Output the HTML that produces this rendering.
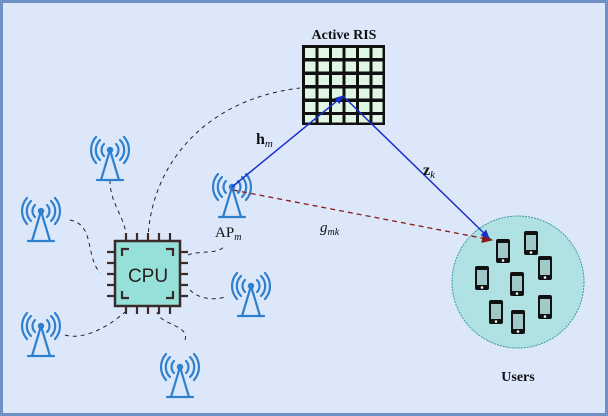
<!DOCTYPE html>
<html><head><style>body{margin:0;background:#fff}svg{display:block}</style></head><body>
<svg width="608" height="416" viewBox="0 0 608 416" xmlns="http://www.w3.org/2000/svg" font-family="Liberation Serif, serif">
<defs>
<g id="ant" fill="none" stroke="#2f7fcf" stroke-width="2.2" stroke-linecap="round">
<circle cx="0" cy="0" r="3.2" fill="#2f7fcf" stroke="none"/>
<path d="M0 0 L-9 30 M0 0 L9 30 M-13 30 H13" />
<path d="M-6 -6 A8.5 8.5 0 0 0 -6 6 M6 -6 A8.5 8.5 0 0 1 6 6"/>
<path d="M-10 -10 A14 14 0 0 0 -10 10 M10 -10 A14 14 0 0 1 10 10"/>
<path d="M-14 -13 A19.5 19.5 0 0 0 -14 13 M14 -13 A19.5 19.5 0 0 1 14 13"/>
</g>
<g id="ph"><rect x="-7" y="-12" width="14" height="24" rx="2" fill="#111"/><rect x="-5" y="-8" width="10" height="15" fill="#9fc8c8"/><circle cx="0" cy="9.5" r="1.3" fill="#fff"/></g>
<marker id="ab" markerWidth="10" markerHeight="10" refX="8" refY="5" orient="auto" markerUnits="userSpaceOnUse"><path d="M0 1 L9 5 L0 9z" fill="#1a2fc8"/></marker>
<marker id="ar" markerWidth="12" markerHeight="12" refX="10" refY="6" orient="auto" markerUnits="userSpaceOnUse"><path d="M0 1 L11 6 L0 11z" fill="#8b1a1a"/></marker>
</defs>
<rect x="1.5" y="1.5" width="605" height="413" fill="#dce8f9" stroke="#6f90c4" stroke-width="3"/>
<!-- dotted links -->
<g fill="none" stroke="#222" stroke-width="1" stroke-dasharray="4 4">
<path d="M148 240 C150 170 200 100 300 88"/>
<path d="M110 180 C110 205 125 215 127 240"/>
<path d="M70 220 C95 225 85 255 100 273"/>
<path d="M65 335 C80 340 105 330 125 312"/>
<path d="M185 340 C190 325 160 325 157 312"/>
<path d="M188 255 C200 250 220 255 225 245"/>
<path d="M190 290 C200 300 215 300 225 297"/>
</g>
<!-- antennas -->
<use href="#ant" x="110" y="150"/>
<use href="#ant" x="41" y="211"/>
<use href="#ant" x="232" y="187"/>
<use href="#ant" x="251" y="286"/>
<use href="#ant" x="41" y="326"/>
<use href="#ant" x="180" y="367"/>
<!-- RIS -->
<text x="344" y="39" font-size="14" font-weight="bold" text-anchor="middle" fill="#111">Active RIS</text>
<g>
<rect x="302" y="45" width="83" height="80" fill="#111"/>
<g fill="#dff6e4">
<rect x="305" y="48" width="10.5" height="10" /><rect x="318.5" y="48" width="10.5" height="10"/><rect x="332" y="48" width="10.5" height="10"/><rect x="345.5" y="48" width="10.5" height="10"/><rect x="359" y="48" width="10.5" height="10"/><rect x="372.5" y="48" width="10" height="10"/>
</g>
<g fill="#dff6e4">
<use href="#row" />
</g>
</g>
<g id="rows" fill="#dff6e4">
<rect x="305" y="61.5" width="10.5" height="10"/><rect x="318.5" y="61.5" width="10.5" height="10"/><rect x="332" y="61.5" width="10.5" height="10"/><rect x="345.5" y="61.5" width="10.5" height="10"/><rect x="359" y="61.5" width="10.5" height="10"/><rect x="372.5" y="61.5" width="10" height="10"/>
<rect x="305" y="75" width="10.5" height="10"/><rect x="318.5" y="75" width="10.5" height="10"/><rect x="332" y="75" width="10.5" height="10"/><rect x="345.5" y="75" width="10.5" height="10"/><rect x="359" y="75" width="10.5" height="10"/><rect x="372.5" y="75" width="10" height="10"/>
<rect x="305" y="88.5" width="10.5" height="10"/><rect x="318.5" y="88.5" width="10.5" height="10"/><rect x="332" y="88.5" width="10.5" height="10"/><rect x="345.5" y="88.5" width="10.5" height="10"/><rect x="359" y="88.5" width="10.5" height="10"/><rect x="372.5" y="88.5" width="10" height="10"/>
<rect x="305" y="102" width="10.5" height="10"/><rect x="318.5" y="102" width="10.5" height="10"/><rect x="332" y="102" width="10.5" height="10"/><rect x="345.5" y="102" width="10.5" height="10"/><rect x="359" y="102" width="10.5" height="10"/><rect x="372.5" y="102" width="10" height="10"/>
<rect x="305" y="115" width="10.5" height="7.5"/><rect x="318.5" y="115" width="10.5" height="7.5"/><rect x="332" y="115" width="10.5" height="7.5"/><rect x="345.5" y="115" width="10.5" height="7.5"/><rect x="359" y="115" width="10.5" height="7.5"/><rect x="372.5" y="115" width="10" height="7.5"/>
</g>
<!-- users -->
<circle cx="518" cy="282" r="66" fill="#b0e2e4" stroke="#3a9a9e" stroke-width="1" stroke-dasharray="2 1"/>
<use href="#ph" x="503" y="251"/><use href="#ph" x="531" y="243"/><use href="#ph" x="545" y="268"/>
<use href="#ph" x="482" y="278"/><use href="#ph" x="517" y="284"/><use href="#ph" x="545" y="307"/>
<use href="#ph" x="496" y="312"/><use href="#ph" x="518" y="322"/>
<text x="518" y="381" font-size="14" font-weight="bold" text-anchor="middle" fill="#111">Users</text>
<!-- links -->
<line x1="233" y1="190" x2="492" y2="240" stroke="#8b1a1a" stroke-width="1.3" stroke-dasharray="5 4" marker-end="url(#ar)"/>
<line x1="232" y1="187" x2="343" y2="96" stroke="#1a2fc8" stroke-width="1.5" marker-end="url(#ab)"/>
<line x1="343" y1="96" x2="489" y2="238" stroke="#1a2fc8" stroke-width="1.5" marker-end="url(#ab)"/>
<text x="256" y="144" font-size="16" font-weight="bold" fill="#111">h<tspan font-size="11" font-weight="normal" font-style="italic" dy="3">m</tspan></text>
<text x="423" y="175" font-size="16" font-weight="bold" fill="#111">z<tspan font-size="11" font-weight="normal" font-style="italic" dy="3">k</tspan></text>
<text x="320" y="232" font-size="15" font-style="italic" fill="#111">g<tspan font-size="10" dy="3">mk</tspan></text>
<text x="215" y="237" font-size="15" fill="#111">AP<tspan font-size="10" font-style="italic" dy="3">m</tspan></text>
<!-- CPU -->
<g stroke="#3a2a2a" stroke-width="2.2" fill="none">
<path d="M126 241 v-8 M137 241 v-8 M148 241 v-8 M159 241 v-8 M170 241 v-8"/>
<path d="M126 306 v8 M137 306 v8 M148 306 v8 M159 306 v8 M170 306 v8"/>
<path d="M115 252 h-8 M115 263 h-8 M115 274 h-8 M115 285 h-8 M115 296 h-8"/>
<path d="M180 252 h8 M180 263 h8 M180 274 h8 M180 285 h8 M180 296 h8"/>
</g>
<rect x="115" y="241" width="65" height="65" fill="#95e0d8" stroke="#3a2a2a" stroke-width="2.5"/>
<path d="M122 256 v-7 h7 M173 256 v-7 h-7 M122 291 v7 h7 M173 291 v7 h-7" stroke="#3a2a2a" stroke-width="2.2" fill="none"/>
<text x="148" y="282" font-family="Liberation Sans, sans-serif" font-size="19" text-anchor="middle" fill="#2a2020">CPU</text>
</svg>
</body></html>
